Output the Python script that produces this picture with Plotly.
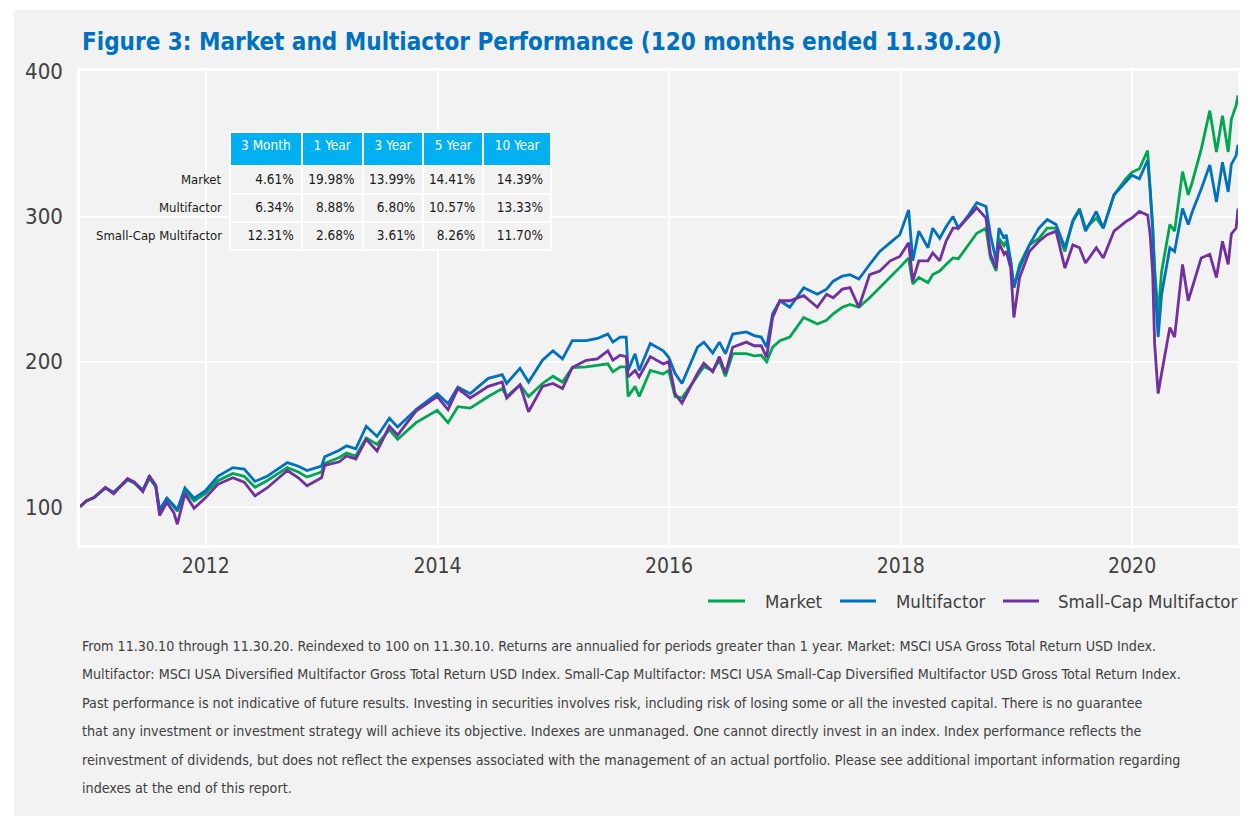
import plotly.graph_objects as go

dates = [
    "2010-11-30", "2010-12-20", "2011-01-14", "2011-02-18", "2011-03-16", "2011-04-29",
    "2011-05-20", "2011-06-16", "2011-07-07", "2011-07-27", "2011-08-08", "2011-08-31",
    "2011-09-22", "2011-10-03", "2011-10-27", "2011-11-25", "2011-12-30", "2012-02-08",
    "2012-03-26", "2012-05-01", "2012-06-04", "2012-07-12", "2012-09-14", "2012-10-19",
    "2012-11-15", "2012-12-31", "2013-01-10", "2013-02-25", "2013-03-20", "2013-04-18",
    "2013-05-21", "2013-06-24", "2013-08-02", "2013-08-28", "2013-10-25", "2013-12-31",
    "2014-02-03", "2014-03-06", "2014-04-14", "2014-06-10", "2014-07-24", "2014-08-07",
    "2014-09-18", "2014-10-15", "2014-11-28", "2014-12-31", "2015-01-30", "2015-03-02",
    "2015-04-15", "2015-05-20", "2015-06-22", "2015-07-08", "2015-07-31", "2015-08-19",
    "2015-08-25", "2015-09-16", "2015-09-29", "2015-11-03", "2015-12-14", "2015-12-31",
    "2016-01-20", "2016-02-11", "2016-03-31", "2016-04-20", "2016-05-18", "2016-06-08",
    "2016-06-27", "2016-07-20", "2016-09-01", "2016-09-26", "2016-10-18", "2016-11-04",
    "2016-11-23", "2016-12-16", "2017-01-16", "2017-02-14", "2017-03-01", "2017-04-13",
    "2017-05-12", "2017-06-02", "2017-07-01", "2017-07-25", "2017-08-22", "2017-09-25",
    "2017-10-27", "2017-11-29", "2017-12-29", "2018-01-26", "2018-02-08", "2018-02-27",
    "2018-03-28", "2018-04-12", "2018-05-04", "2018-05-24", "2018-06-15", "2018-07-02",
    "2018-08-03", "2018-08-29", "2018-09-27", "2018-10-11", "2018-10-29", "2018-11-07",
    "2018-11-23", "2018-11-30", "2018-12-14", "2018-12-24", "2019-01-11", "2019-02-11",
    "2019-03-13", "2019-04-08", "2019-05-06", "2019-06-03", "2019-06-28", "2019-07-19",
    "2019-08-07", "2019-09-10", "2019-10-02", "2019-11-05", "2019-12-12", "2019-12-31",
    "2020-01-24", "2020-02-19", "2020-02-27", "2020-03-06", "2020-03-12", "2020-03-23",
    "2020-04-03", "2020-04-29", "2020-05-14", "2020-06-08", "2020-06-26", "2020-07-09",
    "2020-08-06", "2020-09-02", "2020-09-23", "2020-10-12", "2020-10-30", "2020-11-09",
    "2020-11-24", "2020-11-30",
]

market = [
    100, 104, 106.4, 113, 109.5, 118.5,
    116.5, 111, 119.5, 114, 97, 105,
    100, 97, 111, 104, 109, 118,
    123, 121, 113.5, 118, 127, 124,
    120.5, 124, 130, 134, 137, 135,
    147.5, 143, 153, 146.5, 158, 166.5,
    158, 169, 168, 176, 181.5, 176,
    184, 176, 185, 190, 186, 196,
    196.5, 197.5, 198.5, 193, 196.5, 196.5,
    176, 183, 176, 194, 191.5, 194,
    176, 175, 190, 196.5, 194, 201,
    190, 205.5, 205.5, 204, 204.5, 200,
    210, 214.5, 217, 226, 230.5, 226,
    228.5, 233, 237.5, 239.5, 237.5, 244,
    251, 258, 265, 271.5, 253.5, 258,
    254.5, 260, 262.5, 267, 271.5, 271,
    280.5, 288.5, 292, 271.5, 262.5, 285,
    280, 283, 269, 251, 267, 280.5,
    285, 292, 292, 276, 297.5, 305.5,
    292, 299, 292, 315, 326, 330.5,
    333, 345.5, 317, 292, 264.5, 232,
    262, 294.5, 290, 331, 315, 324,
    346.5, 373, 344.5, 369.5, 344.5, 367,
    376.5, 383.5,
]

multifactor = [
    100, 104, 106.5, 113, 110, 119,
    117, 111.5, 121, 115, 98, 106,
    101, 98, 113, 106, 111, 121,
    127, 126, 117.5, 121, 130.5, 128,
    125, 128, 134.5, 139, 142, 140,
    155.5, 148.5, 161, 155, 167, 178,
    171, 182.5, 178, 188.5, 191, 185,
    195.5, 186, 201, 207.5, 202, 214.5,
    214.5, 216, 219, 213.5, 217, 217,
    194, 205.5, 194, 212.5, 207.5, 203,
    192, 185, 210, 213.5, 206, 213.5,
    205.5, 219, 220.5, 218, 217, 210,
    233, 242, 237.5, 246.5, 251, 246.5,
    250, 255.5, 259, 260, 257, 267,
    276, 282, 287.5, 304.5, 269.5, 290,
    278.5, 292, 285, 293, 300, 292,
    301, 309.5, 307, 287.5, 269.5, 292,
    285, 287.5, 269.5, 251, 264.5, 280.5,
    292, 298, 294.5, 278.5, 296.5, 304.5,
    290, 303.5, 292, 315, 324, 328.5,
    326, 339, 319, 292, 258, 217,
    246.5, 278.5, 276, 305.5, 294.5, 303.5,
    319, 335.5, 310, 337.5, 317, 336,
    342, 349.5,
]

small_cap = [
    100, 104, 106.5, 113.5, 109, 119.5,
    117, 110.5, 121.5, 114, 94, 103,
    96, 88, 109, 99, 106, 115.5,
    120, 117, 107.5, 113, 125, 120,
    114.5, 120, 128.5, 131, 135, 133,
    146.5, 138.5, 155.5, 149.5, 166, 176,
    167, 181.5, 175, 183, 186, 175,
    184, 165.5, 183, 185, 181.5, 196,
    201, 202, 207.5, 201, 204.5, 203.5,
    189.5, 194, 189.5, 203.5, 198.5, 200,
    178, 171.5, 192, 199, 193, 203.5,
    192, 210, 213.5, 211, 211, 203,
    230.5, 242, 242, 244, 245.5, 237.5,
    246.5, 244, 250, 251, 237.5, 260,
    262.5, 269.5, 272.5, 282, 255.5, 269.5,
    269.5, 275, 269.5, 283, 292, 292,
    300, 306, 299, 274, 264.5, 282,
    274, 276, 264.5, 230.5, 258, 276,
    283, 287.5, 290, 264.5, 280.5, 278.5,
    268, 278.5, 271.5, 290, 296.5, 299,
    303.5, 301, 287.5, 260, 212.5, 178,
    192, 223.5, 217, 267, 242, 251,
    271.5, 274, 258, 283, 267, 288,
    292, 305.5,
]

series_names = ["Market", "Multifactor", "Small-Cap Multifactor"]
series_colors = ["#00a651", "#0070c0", "#7030a0"]

table_periods = ["3 Month", "1 Year", "3 Year", "5 Year", "10 Year"]
table_market = ["4.61%", "19.98%", "13.99%", "14.41%", "14.39%"]
table_multifactor = ["6.34%", "8.88%", "6.80%", "10.57%", "13.33%"]
table_small_cap = ["12.31%", "2.68%", "3.61%", "8.26%", "11.70%"]

title_text = "Figure 3: Market and Multiactor Performance (120 months ended 11.30.20)"
footnote_lines = [
    "From 11.30.10 through 11.30.20. Reindexed to 100 on 11.30.10. Returns are annualied for periods greater than 1 year. Market: MSCI USA Gross Total Return USD Index.",
    "Multifactor: MSCI USA Diversified Multifactor Gross Total Return USD Index. Small-Cap Multifactor: MSCI USA Small-Cap Diversified Multifactor USD Gross Total Return Index.",
    "Past performance is not indicative of future results. Investing in securities involves risk, including risk of losing some or all the invested capital. There is no guarantee",
    "that any investment or investment strategy will achieve its objective. Indexes are unmanaged. One cannot directly invest in an index. Index performance reflects the",
    "reinvestment of dividends, but does not reflect the expenses associated with the management of an actual portfolio. Please see additional important information regarding",
    "indexes at the end of this report.",
]

FONT = "DejaVu Sans Condensed, Liberation Sans Narrow, Roboto Condensed, sans-serif"
BG = "#f2f2f2"
TEXT = "#404040"

W, H = 1240, 808
ML, MR, MT, MB = 72, 10, 63, 271
PW, PH = W - ML - MR, H - MT - MB


def px(fx):
    return (fx - ML) / PW


def py(fy):
    return 1 - (fy - MT) / PH


fig = go.Figure()
for name, vals, col in zip(series_names, [market, multifactor, small_cap], series_colors):
    fig.add_trace(go.Scatter(x=dates, y=vals, name=name, mode="lines",
                             line=dict(color=col, width=2.8), showlegend=False))

rows = [table_market, table_multifactor, table_small_cap]
fig.add_trace(go.Table(
    domain=dict(x=[px(222), px(543.7)], y=[py(262), py(123.7)]),
    columnwidth=[72, 61, 61, 60, 68],
    header=dict(
        values=table_periods,
        fill=dict(color="#00b0f0"),
        line=dict(color="white", width=2),
        font=dict(family=FONT, size=13.5, color="white"),
        align="center",
        height=34,
    ),
    cells=dict(
        values=[[r[j] for r in rows] for j in range(len(table_periods))],
        fill=dict(color=BG),
        line=dict(color="white", width=2),
        font=dict(family=FONT, size=13.5, color="#1a1a1a"),
        align="right",
        height=28,
    ),
))

annotations = [dict(
    text="<b>" + title_text + "</b>", xref="paper", yref="paper",
    x=px(72), y=py(34), xanchor="left", yanchor="middle", showarrow=False,
    font=dict(family=FONT, size=24, color="#0070c0"),
)]
for i, name in enumerate(series_names):
    annotations.append(dict(
        text=name, xref="paper", yref="paper", x=px(216), y=py(171.7 + i * 27.9),
        xanchor="right", yanchor="middle", showarrow=False,
        font=dict(family=FONT, size=13, color="#1a1a1a"),
    ))
for i, line in enumerate(footnote_lines):
    annotations.append(dict(
        text=line, xref="paper", yref="paper", x=px(72), y=py(638 + i * 28.4),
        xanchor="left", yanchor="middle", showarrow=False,
        font=dict(family=FONT, size=14.2, color=TEXT),
    ))

shapes = [
    dict(type="rect", xref="paper", yref="paper", x0=px(-10), x1=px(6), y0=py(900), y1=py(-10),
         fillcolor="white", line=dict(width=0), layer="below"),
    dict(type="rect", xref="paper", yref="paper", x0=px(-10), x1=px(1300), y0=py(2), y1=py(-10),
         fillcolor="white", line=dict(width=0), layer="below"),
]

# custom legend (line sample + label) below the plot, right aligned
legend_line_x = [(700, 737), (832, 868), (995, 1031)]
legend_text_x = [755, 886, 1049]
LEG_Y = 593
for k, (name, col, (x0, x1), tx) in enumerate(zip(series_names, series_colors, legend_line_x, legend_text_x)):
    shapes.append(dict(type="line", xref="paper", yref="paper", x0=px(x0), x1=px(x1),
                       y0=py(LEG_Y), y1=py(LEG_Y), line=dict(color=col, width=3)))
    last = k == len(series_names) - 1
    annotations.append(dict(
        text=name, xref="paper", yref="paper", x=px(1232 if last else tx), y=py(LEG_Y),
        xanchor="right" if last else "left", yanchor="middle", showarrow=False,
        font=dict(family=FONT, size=18.5, color=TEXT),
    ))

fig.update_layout(
    width=W, height=H,
    margin=dict(l=ML, r=MR, t=MT, b=MB, autoexpand=False),
    paper_bgcolor=BG, plot_bgcolor=BG,
    font=dict(family=FONT, color=TEXT),
    showlegend=False,
    annotations=annotations,
    shapes=shapes,
    xaxis=dict(
        type="date", range=["2010-11-30", "2020-11-30"],
        tick0="2012-01-01", dtick="M24", tickformat="%Y",
        showgrid=True, gridcolor="white", gridwidth=1.5,
        showline=True, mirror=True, linecolor="white", linewidth=2.5,
        ticks="", zeroline=False,
        tickfont=dict(family=FONT, size=21, color=TEXT),
    ),
    yaxis=dict(
        range=[73.7, 400.3], tickvals=[100, 200, 300, 400],
        showgrid=True, gridcolor="white", gridwidth=1.5,
        showline=True, mirror=True, linecolor="white", linewidth=2.5,
        ticks="", zeroline=False, ticklabelstandoff=10,
        tickfont=dict(family=FONT, size=22, color=TEXT),
    ),
)

fig.write_html("out.html")
